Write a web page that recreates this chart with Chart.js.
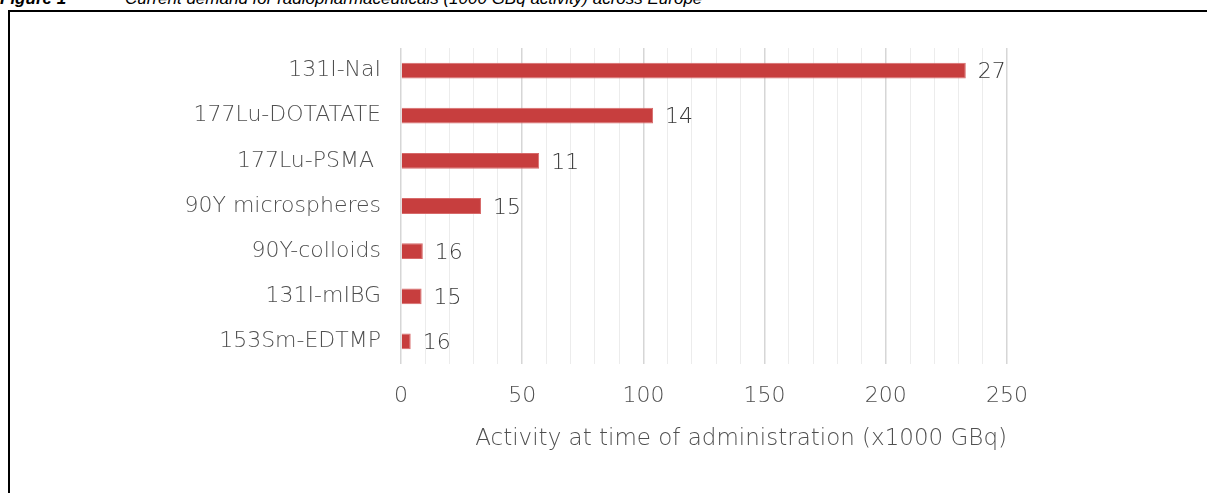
<!DOCTYPE html>
<html>
<head>
<meta charset="utf-8">
<script src="https://cdn.jsdelivr.net/npm/chart.js@4.4.1/dist/chart.umd.min.js"></script>
<style>
  html, body { margin: 0; padding: 0; background: #fff; overflow: hidden; }
  #frame { position: absolute; left: 8px; top: 10px; width: 1300px; height: 600px;
           border-top: 2px solid #000; border-left: 2px solid #000; }
  #caption { position: absolute; left: 0; top: -11px; font: italic 17px "Liberation Sans", Arial, sans-serif;
             white-space: nowrap; color: #000; }
  #caption b { font-weight: bold; }
  #caption span { position: absolute; left: 125px; }
  #wrap { position: absolute; left: 0; top: 0; width: 1207px; height: 493px; }
</style>
</head>
<body>
<div id="frame"></div>
<div id="caption"><b>Figure 1</b><span>Current demand for radiopharmaceuticals (1000 GBq activity) across Europe</span></div>
<div id="wrap"><canvas id="demandChart" width="1207" height="493"></canvas></div>
<script>
const products = ['131I-NaI', '177Lu-DOTATATE', '177Lu-PSMA ', '90Y microspheres', '90Y-colloids', '131I-mIBG', '153Sm-EDTMP'];
// activity in 1000 GBq
const activity = [233, 104, 57, 33, 9, 8.5, 4];
// number shown at the end of each bar
const countLabels = [27, 14, 11, 15, 16, 15, 16];

const FONT = '"DejaVu Sans", sans-serif';

// writes the count next to the end of each bar
const barCounts = {
  id: 'barCounts',
  afterDatasetsDraw(chart) {
    const ctx = chart.ctx;
    const meta = chart.getDatasetMeta(0);
    ctx.save();
    ctx.font = '200 22px ' + FONT;
    ctx.fillStyle = '#3a3a3a';
    ctx.textAlign = 'left';
    ctx.textBaseline = 'middle';
    meta.data.forEach((bar, i) => {
      ctx.fillText(String(countLabels[i]), bar.x + 12, bar.y + 2);
    });
    ctx.restore();
  }
};

new Chart(document.getElementById('demandChart'), {
  type: 'bar',
  data: {
    labels: products,
    datasets: [{
      data: activity,
      backgroundColor: '#c73e3e',
      borderColor: '#d76a6a',
      borderWidth: 1,
      barPercentage: 0.35,
      categoryPercentage: 1
    }]
  },
  options: {
    indexAxis: 'y',
    responsive: false,
    animation: false,
    layout: { padding: { top: 48, right: 200, bottom: 0, left: 0 } },
    plugins: { legend: { display: false }, tooltip: { enabled: false } },
    scales: {
      x: {
        min: 0,
        max: 250,
        border: { display: false },
        grid: {
          drawTicks: false,
          color: c => (c.tick && c.tick.value % 50 === 0) ? '#d6d6d6' : '#ececec',
          lineWidth: c => (c.tick && c.tick.value % 50 === 0) ? 1.5 : 1
        },
        ticks: {
          stepSize: 10,
          autoSkip: false,
          maxRotation: 0,
          padding: 19,
          color: '#4f4f4f',
          font: { family: FONT, size: 22, weight: 200 },
          callback: v => (v % 50 === 0 ? String(v) : '')
        },
        title: {
          display: true,
          text: 'Activity at time of administration (x1000 GBq)',
          align: 'end',
          color: '#4f4f4f',
          font: { family: FONT, size: 23, weight: 200 },
          padding: { top: 4, bottom: 40 }
        },
        afterFit: s => { s.height = 129; }
      },
      y: {
        border: { display: false },
        grid: { display: false, drawTicks: false },
        ticks: {
          padding: 20,
          color: '#4f4f4f',
          font: { family: FONT, size: 22, weight: 200 }
        },
        afterFit: s => { s.width = 401; }
      }
    }
  },
  plugins: [barCounts]
});
</script>
</body>
</html>
